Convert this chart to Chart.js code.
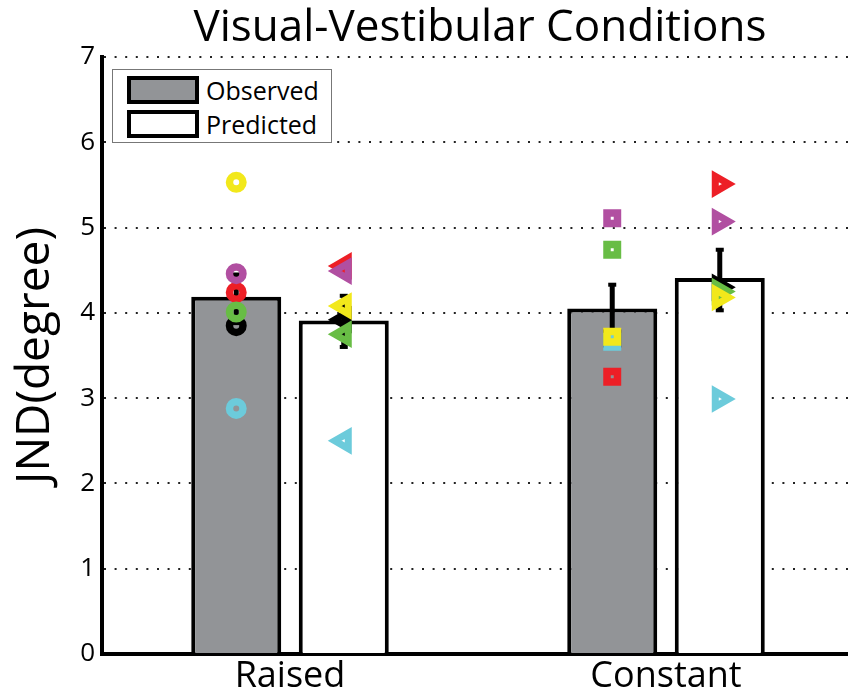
<!DOCTYPE html>
<html lang="en">
<head>
    <meta charset="UTF-8">
    <title>Visual-Vestibular Conditions</title>
    <style>
        body {
            margin: 0;
            overflow: hidden;
            background: #fff;
            font-family: 'Open Sans', sans-serif;
        }
        #wrap {
            position: relative;
            width: 856px;
            height: 698px;
        }
        #chart-title {
            position: absolute;
            left: 0;
            top: -1px;
            width: 960px;
            text-align: center;
            font-size: 44px;
            line-height: 50px;
            color: #000;
        }
        #legend {
            position: absolute;
            left: 112px;
            top: 69px;
            width: 220px;
            height: 74px;
            box-sizing: border-box;
            border: 1px solid #777;
            background: #fff;
        }
        .legend-row {
            position: absolute;
            left: 14px;
            height: 28px;
            display: flex;
            align-items: center;
        }
        .legend-swatch {
            width: 72px;
            height: 28px;
            box-sizing: border-box;
            border: 4px solid #000;
            margin-right: 7px;
        }
        .legend-text {
            font-size: 25px;
            color: #000;
        }
    </style>
</head>
<body>
    <div id="wrap">
        <canvas id="jndChart" width="856" height="698"></canvas>
        <div id="chart-title">Visual-Vestibular Conditions</div>
        <div id="legend"></div>
    </div>

    <script src="https://cdn.jsdelivr.net/npm/chart.js"></script>
    <script>
        // data
        const categories = ['Raised', 'Constant'];
        const seriesLabels = ['Observed', 'Predicted'];
        const yTicks = [0, 1, 2, 3, 4, 5, 6, 7];

        const observedMeans = [4.19, 4.05];
        const predictedMeans = [3.91, 4.41];
        const observedErrLow = [3.88, 3.76];
        const observedErrHigh = [4.45, 4.33];
        const predictedErrLow = [3.60, 4.03];
        const predictedErrHigh = [4.20, 4.74];

        // subjects, in drawing order (later ones on top)
        const subjectColors = ['#000000', '#6ccbdb', '#ed1f26', '#b14fa1', '#68bd45', '#f2e81b'];
        const raisedObserved = [3.85, 2.88, 4.24, 4.46, 4.01, 5.53];
        const raisedPredicted = [3.92, 2.50, 4.55, 4.49, 3.75, 4.08];
        const constantObserved = [3.70, 3.66, 3.25, 5.11, 4.74, 3.72];
        const constantPredicted = [4.30, 2.99, 5.51, 5.07, 4.25, 4.18];

        const barOffset = 0.143;   // half the distance between paired bars, in category units
        const font = "'Open Sans', sans-serif";

        function markers(values, xPos, style, rotation, radius, width) {
            return {
                type: 'scatter',
                xAxisID: 'x2',
                order: 1,
                data: values.map(v => ({ x: xPos, y: v })),
                pointStyle: style,
                pointRotation: rotation,
                pointRadius: radius,
                pointHoverRadius: radius,
                pointBorderWidth: width,
                pointBorderColor: subjectColors,
                pointBackgroundColor: 'rgba(0,0,0,0)'
            };
        }

        function errorBar(xPos, low, high) {
            return {
                type: 'line',
                xAxisID: 'x2',
                order: 2,
                data: [{ x: xPos, y: low }, { x: xPos, y: high }],
                borderColor: '#000',
                borderWidth: 5,
                pointStyle: 'line',
                pointRadius: 4,
                pointBorderWidth: 4,
                pointBorderColor: '#000'
            };
        }

        function bars(label, means, shift, fill) {
            return {
                label: label,
                xAxisID: 'x2',
                order: 3,
                data: means.map((v, i) => ({ x: i + shift, y: v })),
                backgroundColor: fill,
                borderColor: '#000',
                borderWidth: 4,
                borderSkipped: 'start',
                grouped: false,
                categoryPercentage: 1,
                barPercentage: 0.837
            };
        }

        const datasets = [
            bars(seriesLabels[0], observedMeans, -barOffset, '#929497'),
            bars(seriesLabels[1], predictedMeans, barOffset, '#ffffff')
        ];

        categories.forEach((c, i) => {
            datasets.push(errorBar(i - barOffset, observedErrLow[i], observedErrHigh[i]));
            datasets.push(errorBar(i + barOffset, predictedErrLow[i], predictedErrHigh[i]));
        });

        datasets.push(markers(raisedObserved, 0 - barOffset, 'circle', 0, 6.75, 7.5));
        datasets.push(markers(raisedPredicted, 0 + barOffset, 'triangle', -90, 9, 7));
        datasets.push(markers(constantObserved, 1 - barOffset, 'rect', 0, 7.4, 7.5));
        datasets.push(markers(constantPredicted, 1 + barOffset, 'triangle', 90, 9, 7));

        const chart = new Chart(document.getElementById('jndChart'), {
            type: 'bar',
            data: { labels: categories, datasets: datasets },
            options: {
                responsive: false,
                animation: false,
                events: [],
                layout: {
                    autoPadding: false,
                    padding: { top: 57, right: 2, left: 0, bottom: 0 }
                },
                plugins: {
                    legend: { display: false },
                    tooltip: { enabled: false },
                    title: { display: false }
                },
                scales: {
                    x: {
                        type: 'category',
                        offset: true,
                        grid: { display: false, drawTicks: false },
                        border: { display: true, color: '#000', width: 4 },
                        ticks: { color: '#000', padding: 1, font: { family: font, size: 36 } },
                        afterFit: s => {
                            s.height = 44;
                            s.paddingLeft = 0;
                            s.paddingRight = 0;
                        }
                    },
                    x2: {
                        type: 'linear',
                        min: -0.5,
                        max: 1.5,
                        offset: false,
                        display: false,
                        grid: { offset: false },
                        ticks: { display: false }
                    },
                    y: {
                        min: 0,
                        max: 7,
                        afterBuildTicks: s => { s.ticks = yTicks.map(v => ({ value: v })); },
                        grid: { color: '#222', lineWidth: 2, drawTicks: false },
                        border: { display: true, color: '#000', width: 4, dash: [2, 8.6] },
                        ticks: { color: '#000', padding: 7, font: { family: font, size: 26 } },
                        title: {
                            display: true,
                            text: 'JND(degree)',
                            color: '#000',
                            padding: { top: 8, bottom: 0 },
                            font: { family: font, size: 46 }
                        },
                        afterFit: s => { s.width = 102; }
                    }
                }
            }
        });

        // legend box built from the two bar series
        const legendBox = document.getElementById('legend');
        chart.data.datasets.slice(0, 2).forEach((ds, i) => {
            const row = document.createElement('div');
            row.className = 'legend-row';
            row.style.top = (6 + i * 34) + 'px';
            row.innerHTML = '<div class="legend-swatch" style="background:' + ds.backgroundColor + '"></div>' +
                '<span class="legend-text">' + ds.label + '</span>';
            legendBox.appendChild(row);
        });
    </script>
</body>
</html>
